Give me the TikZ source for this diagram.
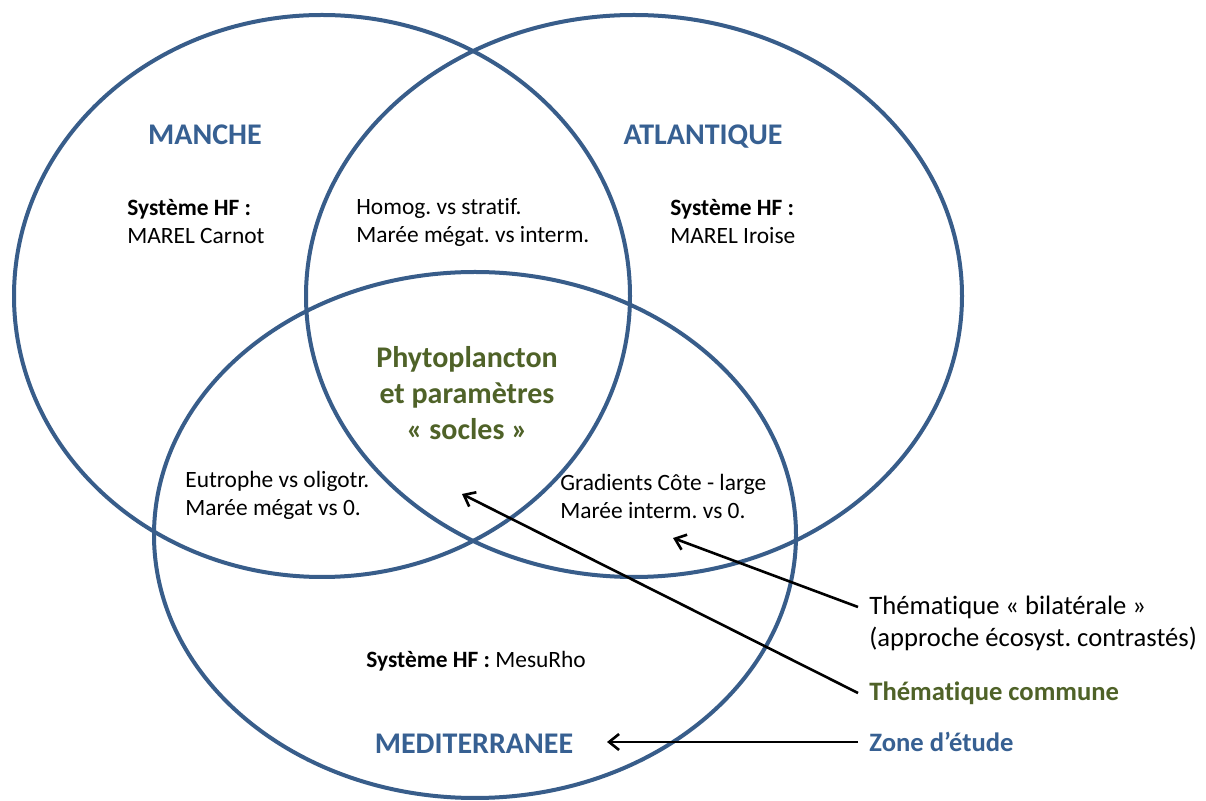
\documentclass[tikz,border=0pt]{standalone}
\usepackage{fontspec}
\setmainfont{Carlito}[Ligatures={NoCommon}]
\usetikzlibrary{arrows.meta}
\frenchspacing

\definecolor{zoneline}{HTML}{385D8A}
\definecolor{zonename}{HTML}{376092}
\definecolor{olive}{HTML}{4F6228}

\tikzset{
  zone/.style={draw=zoneline, line width=2pt},
  zonetitle/.style={font=\fontsize{15}{18}\selectfont\bfseries, text=zonename, inner sep=0pt},
  note/.style={font=\fontsize{11.7}{14}\selectfont, align=left, anchor=west, inner sep=0pt},
  legend/.style={font=\fontsize{13.3}{16}\selectfont, anchor=west, inner xsep=5.5pt, inner ysep=0pt},
  pointer/.style={draw=black, line width=1.3pt, -{Straight Barb[length=5pt,width=8pt]}}
}

\begin{document}
\begin{tikzpicture}[x=0.5pt,y=-0.5pt]
  % page frame
  \fill[white] (0,0) rectangle (1206,801);
  \useasboundingbox (0,0) rectangle (1206,801);

  % the three study zones
  \draw[zone] (322,296) ellipse [x radius=154pt, y radius=140.5pt];
  \draw[zone] (634,296) ellipse [x radius=164pt, y radius=140.5pt];
  \draw[zone] (475,535) ellipse [x radius=160.5pt, y radius=131.5pt];

  % zone names
  \node[zonetitle] (manche) at (205,135) {MANCHE};
  \node[zonetitle] (atlantique) at (703,137) {ATLANTIQUE};
  \node[zonetitle] (medi) at (474,744) {MEDITERRANEE};

  % contents of each region
  \node[note] (hfmanche) at (127,222) {\textbf{Système HF :}\\MAREL Carnot};
  \node[note] (mancheatl) at (356,222) {Homog. vs stratif.\\Marée mégat. vs interm.};
  \node[note] (hfatl) at (670,222) {\textbf{Système HF :}\\MAREL Iroise};
  \node[font=\fontsize{15}{18}\selectfont\bfseries, text=olive, align=center, inner sep=0pt]
    (socle) at (467,393) {Phytoplancton\\et paramètres\\« socles »};
  \node[note] (manchemed) at (185,495) {Eutrophe vs oligotr.\\Marée mégat vs 0.};
  \node[note] (atlmed) at (560,496) {Gradients Côte - large\\Marée interm. vs 0.};
  \node[note] (hfmed) at (366,661) {\textbf{Système HF :} MesuRho};

  % legend
  \node[legend] (bil) at (858,607) {Thématique « bilatérale »};
  \node[legend] (bilnote) at (858,639) {(approche écosyst. contrastés)};
  \node[legend, font=\fontsize{13.3}{16}\selectfont\bfseries, text=olive] (com) at (858,693) {Thématique commune};
  \node[legend, font=\fontsize{13.3}{16}\selectfont\bfseries, text=zonename] (zonekey) at (858,742) {Zone d’étude};

  % arrow targets
  \coordinate (biltip) at (673,538);
  \coordinate (comtip) at (462,494);
  \coordinate (zonetip) at (607,744);

  \draw[pointer] (bil.west) -- (biltip);
  \draw[pointer] (com.west) -- (comtip);
  \draw[pointer] (zonekey.west) -- (zonekey.west -| zonetip);
\end{tikzpicture}
\end{document}
